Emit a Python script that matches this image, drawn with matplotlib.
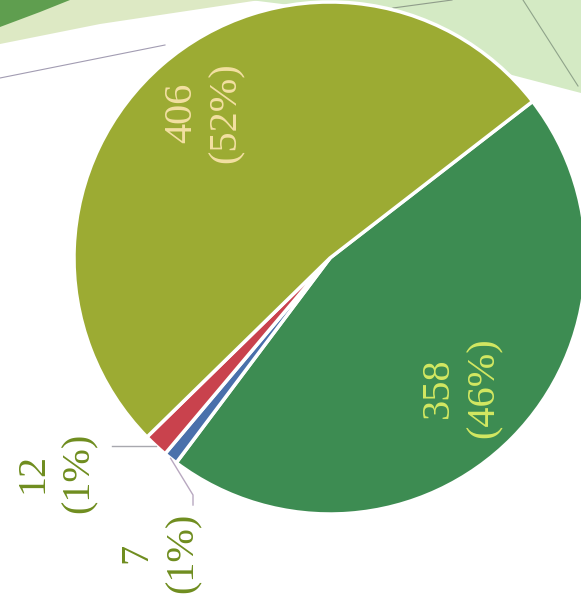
import numpy as np
import matplotlib.pyplot as plt
from matplotlib.patches import Polygon

plt.rcParams['font.family'] = 'serif'
plt.rcParams['font.serif'] = ['Liberation Serif', 'DejaVu Serif']

# counts per group, drawn clockwise, with the printed percentages
counts = [358, 7, 12, 406]
pcts = [46, 1, 1, 52]
colors = ['#3d8c52', '#4a70ab', '#c9424d', '#9cab33']
label_colors = ['#d3e862', '#6f8d1f', '#6f8d1f', '#f3e0a2']

W, H = 581, 599
fig = plt.figure(figsize=(W / 100, H / 100), dpi=100)

# background decoration (pixel coords, y down)
bg = fig.add_axes([0, 0, 1, 1])
bg.set_xlim(0, W)
bg.set_ylim(H, 0)
bg.axis('off')
bg.add_patch(Polygon([(0, 0), (260, 0), (200, 9), (100, 24), (0, 44)],
                     color='#dde9c4', lw=0))
bg.add_patch(Polygon([(0, 0), (70, 0), (40, 12), (0, 27)],
                     color='#5f9e4f', lw=0))
bg.add_patch(Polygon([(250, 0), (W, 0), (W, 93), (512, 75), (430, 40), (330, 10)],
                     color='#d4eac4', lw=0))
bg.plot([0, 165], [78, 45], color='#a29cb2', lw=0.8)
bg.plot([393, 452], [8, 0], color='#8f9c8a', lw=0.8)
bg.plot([523, 578], [0, 86], color='#8fa38a', lw=0.8)

# pie (pixel coords, y up)
ax = fig.add_axes([0, 0, 1, 1])
cx, cy, R = 330, H - 258, 256
wedges, _ = ax.pie(counts, colors=colors, startangle=37.7, counterclock=False,
                   center=(cx, cy), radius=R,
                   wedgeprops=dict(edgecolor='white', linewidth=2.5))
ax.set_xlim(0, W)
ax.set_ylim(0, H)
ax.set_aspect('equal')
ax.axis('off')

texts = [f'{c}\n({p}%)' for c, p in zip(counts, pcts)]
fs = 29

def mid(w):
    return np.deg2rad((w.theta1 + w.theta2) / 2)

# labels inside the two big slices
for i, dist in [(0, 0.72), (3, 0.75)]:
    a = mid(wedges[i])
    ax.text(cx + dist * R * np.cos(a), cy + dist * R * np.sin(a), texts[i],
            rotation=90, ha='center', va='center', multialignment='center',
            fontsize=fs, color=label_colors[i], linespacing=1.3)

# small slices: labels outside with leader lines
a12 = mid(wedges[2])
p12 = (cx + R * np.cos(a12), cy + R * np.sin(a12))
ax.plot([p12[0], 112], [p12[1], p12[1]], color='#a8a8ae', lw=1)
ax.text(56, H - 473, texts[2], rotation=90, ha='center', va='center',
        multialignment='center', fontsize=fs, color=label_colors[2], linespacing=1.3)

a7 = mid(wedges[1])
p7 = (cx + R * np.cos(a7), cy + R * np.sin(a7))
ax.plot([p7[0], 193, 193], [p7[1], H - 495, H - 505], color='#b8a8c0', lw=1)
ax.text(160, H - 553, texts[1], rotation=90, ha='center', va='center',
        multialignment='center', fontsize=fs, color=label_colors[1], linespacing=1.3)

fig.savefig('out.png', dpi=100)
